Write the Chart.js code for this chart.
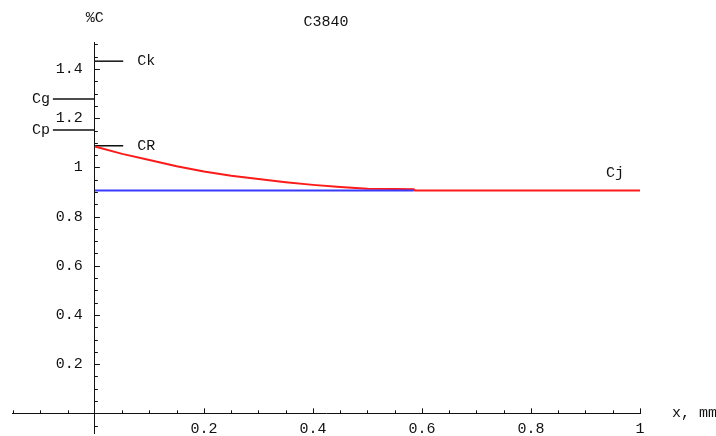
<!DOCTYPE html>
<html>
<head>
<meta charset="utf-8">
<script src="https://cdn.jsdelivr.net/npm/chart.js@4/dist/chart.umd.min.js"></script>
<style>
  html, body { margin: 0; padding: 0; background: #fff; }
  #wrap { width: 716px; height: 436px; }
</style>
</head>
<body>
<div id="wrap"><canvas id="chart" width="716" height="436"></canvas></div>
<script>
// ============================================
// DATOS
// ============================================

// curva roja (perfil de %C)
const redX = [0, 0.05, 0.1, 0.15, 0.2, 0.25, 0.3, 0.35, 0.4, 0.45, 0.5, 0.55, 0.585, 0.587, 1];
const redY = [1.085, 1.055, 1.030, 1.005, 0.983, 0.966, 0.953, 0.940, 0.929, 0.920, 0.913, 0.912, 0.911, 0.906, 0.906];

// linea azul
const blueX = [0, 0.585];
const blueY = [0.906, 0.906];

// niveles de referencia
const refNames = ['Ck', 'Cg', 'Cp', 'CR'];
const refLevels = [1.432, 1.278, 1.152, 1.088];
const refFrom = [0, -0.077, -0.077, 0];
const refTo = [0.052, 0, 0, 0.052];

// etiquetas de ejes
const xTickLabels = ['0.2', '0.4', '0.6', '0.8', '1'];
const yTickLabels = ['0.2', '0.4', '0.6', '0.8', '1', '1.2', '1.4'];

const titleText = 'C3840';
const xAxisTitle = 'x, mm';
const yAxisTitle = '%C';
const curveLabel = 'Cj';

const FONT = '"Liberation Mono", "DejaVu Sans Mono", monospace';

const toPoints = (xs, ys) => xs.map((x, i) => ({ x, y: ys[i] }));

const datasets = [
    {
        data: toPoints(blueX, blueY),
        borderColor: '#3a3aff',
        borderWidth: 2
    },
    {
        data: toPoints(redX, redY),
        borderColor: '#ff1a1a',
        borderWidth: 2
    }
];

refNames.forEach((name, i) => {
    datasets.push({
        label: name,
        data: toPoints([refFrom[i], refTo[i]], [refLevels[i], refLevels[i]]),
        borderColor: '#111',
        borderWidth: 1.5
    });
});

// ticks cada 0.05 (menores) y etiquetas solo en los mayores
function stepTicks(min, max) {
    const out = [];
    for (let k = Math.ceil(min / 0.05); k * 0.05 <= max + 1e-9; k++) {
        const v = Math.round(k * 5) / 100;
        if (v !== 0) out.push({ value: v });
    }
    return out;
}

function labelFor(value, labels) {
    const s = labels.find(l => Math.abs(parseFloat(l) - value) < 1e-6);
    return s === undefined ? '' : s;
}

// ============================================
// PLUGIN: marcas de ticks y textos
// ============================================

const decor = {
    id: 'decor',
    afterDraw(chart) {
        const { ctx, chartArea, scales: { x, y } } = chart;
        const x0 = x.getPixelForValue(0);
        const y0 = y.getPixelForValue(0);

        ctx.save();
        ctx.strokeStyle = '#111';
        ctx.lineWidth = 1;

        x.ticks.forEach(t => {
            const px = Math.round(x.getPixelForValue(t.value)) + 0.5;
            const len = labelFor(t.value, xTickLabels) ? 5 : 3;
            ctx.beginPath();
            ctx.moveTo(px, y0);
            ctx.lineTo(px, y0 - len);
            ctx.stroke();
        });

        ctx.fillStyle = '#111';
        ctx.font = '15px ' + FONT;
        ctx.textBaseline = 'middle';

        y.ticks.forEach(t => {
            const py = Math.round(y.getPixelForValue(t.value)) + 0.5;
            const label = labelFor(t.value, yTickLabels);
            const len = label ? 5 : 3;
            ctx.beginPath();
            ctx.moveTo(x0, py);
            ctx.lineTo(x0 + len, py);
            ctx.stroke();
            if (label) {
                ctx.textAlign = 'right';
                ctx.fillText(label, x0 - 12, py);
            }
        });

        // titulo y ejes
        ctx.textAlign = 'center';
        ctx.fillText(titleText, (chartArea.left + chartArea.right) / 2, chartArea.top - 20);
        ctx.fillText(yAxisTitle, x0, chartArea.top - 24);
        ctx.textAlign = 'left';
        ctx.fillText(xAxisTitle, chartArea.right + 32, y0);

        // etiquetas de niveles
        refNames.forEach((name, i) => {
            const py = y.getPixelForValue(refLevels[i]);
            if (refTo[i] > 0) {
                ctx.textAlign = 'left';
                ctx.fillText(name, x.getPixelForValue(refTo[i]) + 14, py);
            } else {
                ctx.textAlign = 'right';
                ctx.fillText(name, x.getPixelForValue(refFrom[i]) - 3, py);
            }
        });

        ctx.textAlign = 'center';
        ctx.fillText(curveLabel, x.getPixelForValue(0.954), y.getPixelForValue(0.978));
        ctx.restore();
    }
};

// ============================================
// GRAFICA
// ============================================

new Chart(document.getElementById('chart').getContext('2d'), {
    type: 'scatter',
    data: { datasets },
    options: {
        responsive: false,
        animation: false,
        showLine: true,
        elements: { point: { radius: 0 }, line: { tension: 0 } },
        layout: { padding: { left: 12, right: 76, top: 42, bottom: 3 } },
        plugins: { legend: { display: false }, tooltip: { enabled: false } },
        scales: {
            x: {
                type: 'linear',
                min: -0.152,
                max: 1,
                position: { y: 0 },
                afterBuildTicks: axis => { axis.ticks = stepTicks(-0.152, 1); },
                afterFit: axis => { axis.height = 0; },
                grid: { display: false, drawTicks: false },
                border: { display: true, color: '#111', width: 1 },
                ticks: {
                    autoSkip: false,
                    maxRotation: 0,
                    padding: 7,
                    color: '#111',
                    font: { family: FONT, size: 15 },
                    callback: v => labelFor(v, xTickLabels)
                }
            },
            y: {
                type: 'linear',
                min: -0.08,
                max: 1.51,
                position: { x: 0 },
                afterBuildTicks: axis => { axis.ticks = stepTicks(-0.08, 1.51); },
                afterFit: axis => { axis.width = 0; },
                grid: { display: false, drawTicks: false },
                border: { display: true, color: '#111', width: 1 },
                ticks: { display: false }
            }
        }
    },
    plugins: [decor]
});
</script>
</body>
</html>
